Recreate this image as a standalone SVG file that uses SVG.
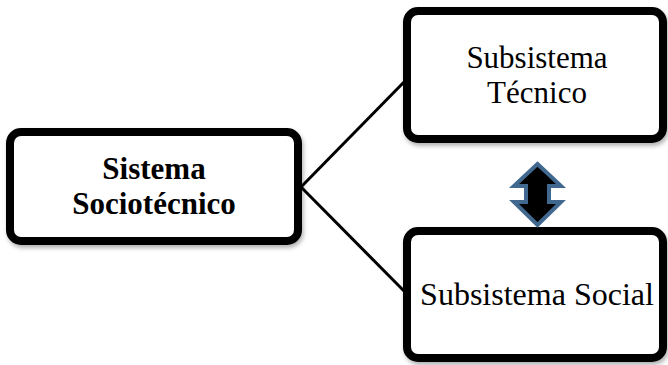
<svg xmlns="http://www.w3.org/2000/svg" width="668" height="365" viewBox="0 0 668 365">
  <defs>
    <filter id="shadow" x="-10%" y="-10%" width="125%" height="130%">
      <feDropShadow dx="1.5" dy="3" stdDeviation="2" flood-color="#000" flood-opacity="0.3"/>
    </filter>
  </defs>
  <style>
    .box { fill: #ffffff; stroke: #000000; stroke-width: 8; filter: url(#shadow); }
    .link { stroke: #000000; stroke-width: 3; fill: none; }
    .label { font-family: "Liberation Serif", "Times New Roman", serif; font-size: 32px; fill: #000000; text-anchor: middle; }
    .two-line { font-size: 31px; }
    .bold { font-weight: bold; font-size: 31px; }
    .swap { fill: #000000; stroke: #41688F; stroke-width: 4; stroke-linejoin: miter; }
  </style>

  <!-- connectors from the system to its two subsystems -->
  <g id="connectors">
    <line class="link" x1="301" y1="187" x2="406" y2="80"/>
    <line class="link" x1="301" y1="187" x2="406" y2="293"/>
  </g>

  <g id="sistema-sociotecnico">
    <rect class="box" x="10" y="132" width="288" height="109" rx="11"/>
    <text class="label bold" x="154" y="179">Sistema</text>
    <text class="label bold" x="154" y="214">Sociotécnico</text>
  </g>

  <g id="subsistema-tecnico">
    <rect class="box" x="407" y="11" width="256" height="128" rx="11"/>
    <text class="label two-line" x="537" y="68">Subsistema</text>
    <text class="label two-line" x="537" y="103">Técnico</text>
  </g>

  <g id="subsistema-social">
    <rect class="box" x="407" y="231" width="256" height="127" rx="11"/>
    <text class="label" x="537" y="305">Subsistema Social</text>
  </g>

  <!-- two-way arrow between the subsystems -->
  <g id="interaccion">
    <polygon class="swap" points="537.5,164 561,186 549,186 549,202 561,202 537.5,225 514,202 526,202 526,186 514,186"/>
  </g>
</svg>
